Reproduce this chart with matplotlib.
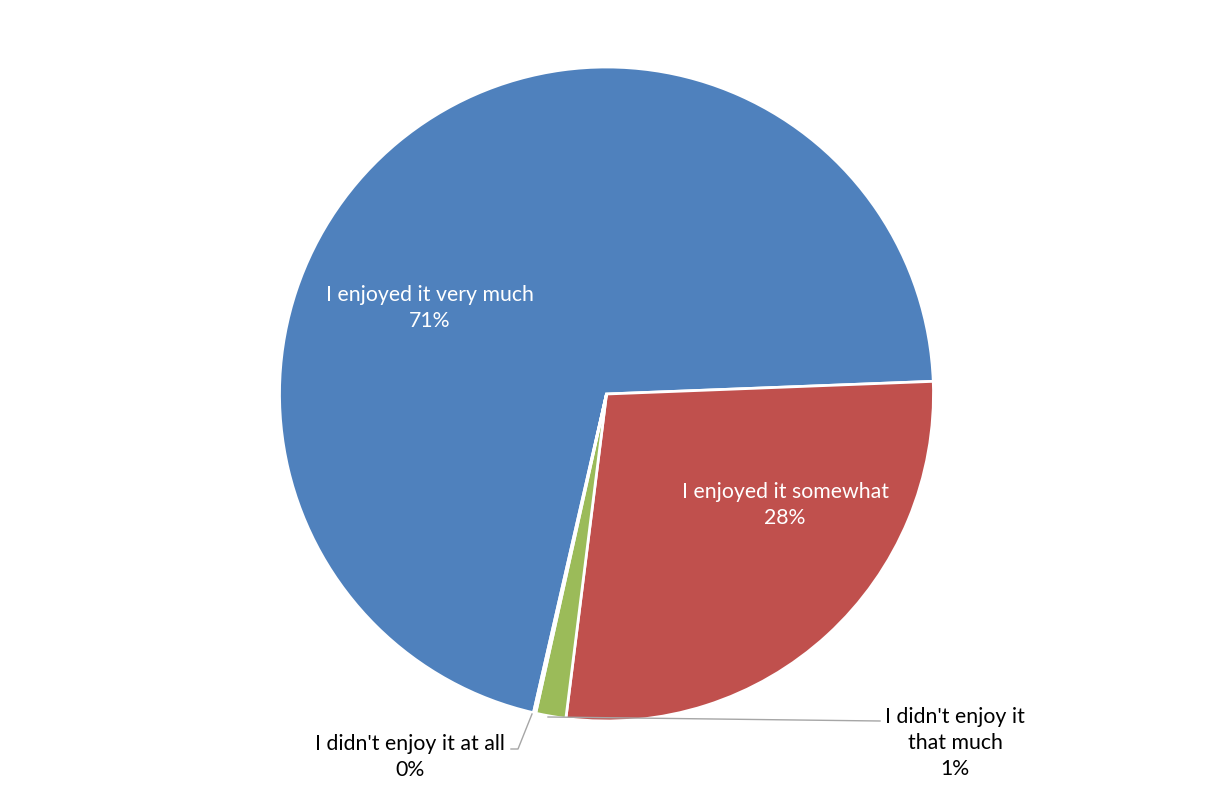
import matplotlib.pyplot as plt

# --- DATA ---
categories = ["I enjoyed it very much", "I enjoyed it somewhat",
              "I didn't enjoy it that much", "I didn't enjoy it at all"]
shares = [70.8, 27.6, 1.49, 0.11]
colors = ["#4F81BD", "#C0504D", "#9BBB59", "#8064A2"]

plt.rcParams['font.family'] = ['Lato', 'DejaVu Sans']

fig = plt.figure(figsize=(12.12, 7.89), dpi=100)
ax = fig.add_axes([0, 0, 1, 1])

cx, cy, r = 606.5, 395, 327
wedges, _ = ax.pie(shares, colors=colors, startangle=-102.9, counterclock=False,
                   center=(cx, cy), radius=r, frame=True,
                   wedgeprops=dict(edgecolor='white', linewidth=2))
ax.set_xlim(0, 1212)
ax.set_ylim(0, 789)
ax.set_aspect('equal')
ax.axis('off')

def pct(v):
    return f"{round(v / sum(shares) * 100):.0f}%"

fs = 15.3
# inside labels
ax.text(430, 789 - 308, f"{categories[0]}\n{pct(shares[0])}", color='white',
        ha='center', va='center', fontsize=fs, linespacing=1.35)
ax.text(785, 789 - 505, f"{categories[1]}\n{pct(shares[1])}", color='white',
        ha='center', va='center', fontsize=fs, linespacing=1.35)

# outside labels with leader lines
ax.plot([548, 880], [789 - 717, 789 - 721], color='#a6a6a6', lw=1)
ax.text(955, 789 - 743, "I didn't enjoy it\nthat much\n" + pct(shares[2]),
        ha='center', va='center', fontsize=fs, linespacing=1.35)

ax.plot([532, 518, 511], [789 - 714, 789 - 749, 789 - 749], color='#a6a6a6', lw=1)
ax.text(410, 789 - 757, f"{categories[3]}\n{pct(shares[3])}",
        ha='center', va='center', fontsize=fs, linespacing=1.35)

fig.savefig("out.png", dpi=100)
